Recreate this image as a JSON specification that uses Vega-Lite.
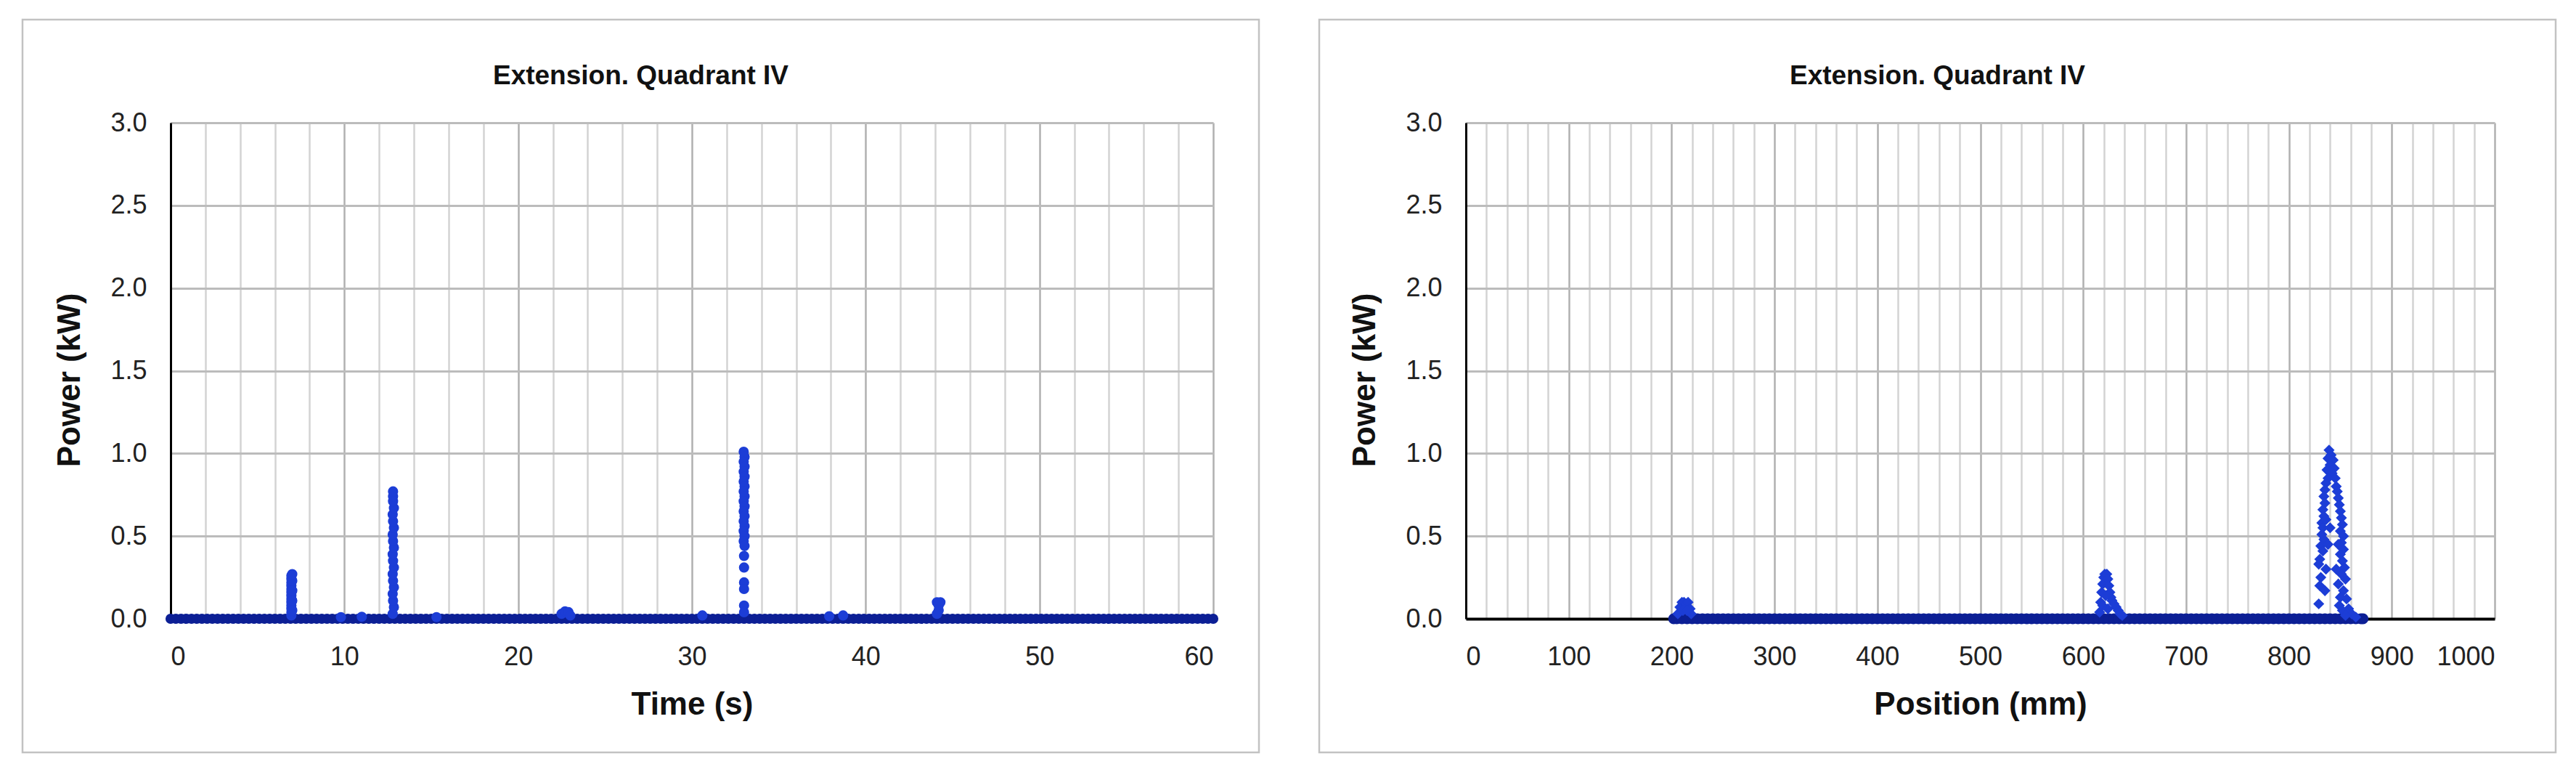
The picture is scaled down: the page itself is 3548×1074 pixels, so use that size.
{
"$schema": "https://vega.github.io/schema/vega-lite/v6.json",
"background": "white",
"padding": {"left": 29, "top": 25, "right": 10, "bottom": 10},
"bounds": "flush",
"spacing": 83,
"config": {"view": {"stroke": "#c2c2c2", "strokeWidth": 2.5, "fill": "white"}, "font": "Liberation Sans"},
"datasets": {
"time": [
{"t":0,"p":0},{"t":0.3,"p":0},{"t":0.6,"p":0},{"t":0.9,"p":0},{"t":1.2,"p":0},{"t":1.5,"p":0},{"t":1.8,"p":0},{"t":2.1,"p":0},{"t":2.4,"p":0},{"t":2.7,"p":0},
{"t":3,"p":0},{"t":3.3,"p":0},{"t":3.6,"p":0},{"t":3.9,"p":0},{"t":4.2,"p":0},{"t":4.5,"p":0},{"t":4.8,"p":0},{"t":5.1,"p":0},{"t":5.4,"p":0},{"t":5.7,"p":0},
{"t":6,"p":0},{"t":6.3,"p":0},{"t":6.6,"p":0},{"t":6.9,"p":0},{"t":7.2,"p":0},{"t":7.5,"p":0},{"t":7.8,"p":0},{"t":8.1,"p":0},{"t":8.4,"p":0},{"t":8.7,"p":0},
{"t":9,"p":0},{"t":9.3,"p":0},{"t":9.6,"p":0},{"t":9.9,"p":0},{"t":10.2,"p":0},{"t":10.5,"p":0},{"t":10.8,"p":0},{"t":11.1,"p":0},{"t":11.4,"p":0},{"t":11.7,"p":0},
{"t":12,"p":0},{"t":12.3,"p":0},{"t":12.6,"p":0},{"t":12.9,"p":0},{"t":13.2,"p":0},{"t":13.5,"p":0},{"t":13.8,"p":0},{"t":14.1,"p":0},{"t":14.4,"p":0},{"t":14.7,"p":0},
{"t":15,"p":0},{"t":15.3,"p":0},{"t":15.6,"p":0},{"t":15.9,"p":0},{"t":16.2,"p":0},{"t":16.5,"p":0},{"t":16.8,"p":0},{"t":17.1,"p":0},{"t":17.4,"p":0},{"t":17.7,"p":0},
{"t":18,"p":0},{"t":18.3,"p":0},{"t":18.6,"p":0},{"t":18.9,"p":0},{"t":19.2,"p":0},{"t":19.5,"p":0},{"t":19.8,"p":0},{"t":20.1,"p":0},{"t":20.4,"p":0},{"t":20.7,"p":0},
{"t":21,"p":0},{"t":21.3,"p":0},{"t":21.6,"p":0},{"t":21.9,"p":0},{"t":22.2,"p":0},{"t":22.5,"p":0},{"t":22.8,"p":0},{"t":23.1,"p":0},{"t":23.4,"p":0},{"t":23.7,"p":0},
{"t":24,"p":0},{"t":24.3,"p":0},{"t":24.6,"p":0},{"t":24.9,"p":0},{"t":25.2,"p":0},{"t":25.5,"p":0},{"t":25.8,"p":0},{"t":26.1,"p":0},{"t":26.4,"p":0},{"t":26.7,"p":0},
{"t":27,"p":0},{"t":27.3,"p":0},{"t":27.6,"p":0},{"t":27.9,"p":0},{"t":28.2,"p":0},{"t":28.5,"p":0},{"t":28.8,"p":0},{"t":29.1,"p":0},{"t":29.4,"p":0},{"t":29.7,"p":0},
{"t":30,"p":0},{"t":30.3,"p":0},{"t":30.6,"p":0},{"t":30.9,"p":0},{"t":31.2,"p":0},{"t":31.5,"p":0},{"t":31.8,"p":0},{"t":32.1,"p":0},{"t":32.4,"p":0},{"t":32.7,"p":0},
{"t":33,"p":0},{"t":33.3,"p":0},{"t":33.6,"p":0},{"t":33.9,"p":0},{"t":34.2,"p":0},{"t":34.5,"p":0},{"t":34.8,"p":0},{"t":35.1,"p":0},{"t":35.4,"p":0},{"t":35.7,"p":0},
{"t":36,"p":0},{"t":36.3,"p":0},{"t":36.6,"p":0},{"t":36.9,"p":0},{"t":37.2,"p":0},{"t":37.5,"p":0},{"t":37.8,"p":0},{"t":38.1,"p":0},{"t":38.4,"p":0},{"t":38.7,"p":0},
{"t":39,"p":0},{"t":39.3,"p":0},{"t":39.6,"p":0},{"t":39.9,"p":0},{"t":40.2,"p":0},{"t":40.5,"p":0},{"t":40.8,"p":0},{"t":41.1,"p":0},{"t":41.4,"p":0},{"t":41.7,"p":0},
{"t":42,"p":0},{"t":42.3,"p":0},{"t":42.6,"p":0},{"t":42.9,"p":0},{"t":43.2,"p":0},{"t":43.5,"p":0},{"t":43.8,"p":0},{"t":44.1,"p":0},{"t":44.4,"p":0},{"t":44.7,"p":0},
{"t":45,"p":0},{"t":45.3,"p":0},{"t":45.6,"p":0},{"t":45.9,"p":0},{"t":46.2,"p":0},{"t":46.5,"p":0},{"t":46.8,"p":0},{"t":47.1,"p":0},{"t":47.4,"p":0},{"t":47.7,"p":0},
{"t":48,"p":0},{"t":48.3,"p":0},{"t":48.6,"p":0},{"t":48.9,"p":0},{"t":49.2,"p":0},{"t":49.5,"p":0},{"t":49.8,"p":0},{"t":50.1,"p":0},{"t":50.4,"p":0},{"t":50.7,"p":0},
{"t":51,"p":0},{"t":51.3,"p":0},{"t":51.6,"p":0},{"t":51.9,"p":0},{"t":52.2,"p":0},{"t":52.5,"p":0},{"t":52.8,"p":0},{"t":53.1,"p":0},{"t":53.4,"p":0},{"t":53.7,"p":0},
{"t":54,"p":0},{"t":54.3,"p":0},{"t":54.6,"p":0},{"t":54.9,"p":0},{"t":55.2,"p":0},{"t":55.5,"p":0},{"t":55.8,"p":0},{"t":56.1,"p":0},{"t":56.4,"p":0},{"t":56.7,"p":0},
{"t":57,"p":0},{"t":57.3,"p":0},{"t":57.6,"p":0},{"t":57.9,"p":0},{"t":58.2,"p":0},{"t":58.5,"p":0},{"t":58.8,"p":0},{"t":59.1,"p":0},{"t":59.4,"p":0},{"t":59.7,"p":0},
{"t":60,"p":0},
{"t":6.95,"p":0.02},{"t":6.95,"p":0.04},{"t":6.95,"p":0.06},{"t":6.95,"p":0.08},{"t":6.95,"p":0.1},{"t":6.95,"p":0.12},{"t":6.95,"p":0.14},{"t":6.95,"p":0.16},{"t":6.95,"p":0.18},{"t":6.95,"p":0.2},{"t":6.95,"p":0.22},{"t":6.95,"p":0.24},{"t":6.95,"p":0.26},
{"t":7.0,"p":0.05},{"t":7.0,"p":0.11},{"t":7.0,"p":0.17},{"t":7.0,"p":0.23},{"t":7.0,"p":0.27},
{"t":12.78,"p":0.03},{"t":12.85,"p":0.07},{"t":12.8,"p":0.11},{"t":12.78,"p":0.15},{"t":12.85,"p":0.19},{"t":12.8,"p":0.23},{"t":12.78,"p":0.27},{"t":12.85,"p":0.31},{"t":12.8,"p":0.35},{"t":12.78,"p":0.39},{"t":12.85,"p":0.43},{"t":12.8,"p":0.47},{"t":12.78,"p":0.51},{"t":12.85,"p":0.55},{"t":12.8,"p":0.59},{"t":12.78,"p":0.63},{"t":12.85,"p":0.67},{"t":12.8,"p":0.71},{"t":12.8,"p":0.74},{"t":12.8,"p":0.77},
{"t":32.98,"p":1.01},{"t":33.03,"p":0.98},{"t":32.98,"p":0.95},{"t":33.03,"p":0.92},{"t":32.98,"p":0.89},{"t":33.03,"p":0.86},{"t":32.98,"p":0.83},{"t":33.03,"p":0.8},{"t":32.98,"p":0.77},{"t":33.03,"p":0.74},{"t":32.98,"p":0.71},{"t":33.03,"p":0.68},{"t":32.98,"p":0.65},{"t":33.03,"p":0.62},{"t":32.98,"p":0.59},{"t":33.03,"p":0.56},{"t":32.98,"p":0.53},{"t":33.03,"p":0.5},{"t":32.98,"p":0.47},{"t":33.03,"p":0.44},{"t":33.0,"p":0.38},{"t":33.0,"p":0.31},{"t":33.0,"p":0.22},{"t":33.0,"p":0.18},{"t":33.0,"p":0.08},{"t":33.0,"p":0.04},
{"t":9.8,"p":0.01},{"t":11.0,"p":0.012},{"t":15.3,"p":0.01},{"t":22.5,"p":0.03},{"t":22.7,"p":0.045},{"t":22.9,"p":0.04},{"t":23.0,"p":0.02},{"t":30.6,"p":0.02},{"t":37.9,"p":0.015},{"t":38.7,"p":0.02},
{"t":44.1,"p":0.1},{"t":44.2,"p":0.08},{"t":44.3,"p":0.1},{"t":44.2,"p":0.05},{"t":44.1,"p":0.03}
],
"pos": [
{"m":202,"p":0},{"m":205,"p":0},{"m":210,"p":0},{"m":215,"p":0},{"m":220,"p":0},{"m":225,"p":0},{"m":230,"p":0},{"m":235,"p":0},{"m":240,"p":0},{"m":245,"p":0},
{"m":250,"p":0},{"m":255,"p":0},{"m":260,"p":0},{"m":265,"p":0},{"m":270,"p":0},{"m":275,"p":0},{"m":280,"p":0},{"m":285,"p":0},{"m":290,"p":0},{"m":295,"p":0},
{"m":300,"p":0},{"m":305,"p":0},{"m":310,"p":0},{"m":315,"p":0},{"m":320,"p":0},{"m":325,"p":0},{"m":330,"p":0},{"m":335,"p":0},{"m":340,"p":0},{"m":345,"p":0},
{"m":350,"p":0},{"m":355,"p":0},{"m":360,"p":0},{"m":365,"p":0},{"m":370,"p":0},{"m":375,"p":0},{"m":380,"p":0},{"m":385,"p":0},{"m":390,"p":0},{"m":395,"p":0},
{"m":400,"p":0},{"m":405,"p":0},{"m":410,"p":0},{"m":415,"p":0},{"m":420,"p":0},{"m":425,"p":0},{"m":430,"p":0},{"m":435,"p":0},{"m":440,"p":0},{"m":445,"p":0},
{"m":450,"p":0},{"m":455,"p":0},{"m":460,"p":0},{"m":465,"p":0},{"m":470,"p":0},{"m":475,"p":0},{"m":480,"p":0},{"m":485,"p":0},{"m":490,"p":0},{"m":495,"p":0},
{"m":500,"p":0},{"m":505,"p":0},{"m":510,"p":0},{"m":515,"p":0},{"m":520,"p":0},{"m":525,"p":0},{"m":530,"p":0},{"m":535,"p":0},{"m":540,"p":0},{"m":545,"p":0},
{"m":550,"p":0},{"m":555,"p":0},{"m":560,"p":0},{"m":565,"p":0},{"m":570,"p":0},{"m":575,"p":0},{"m":580,"p":0},{"m":585,"p":0},{"m":590,"p":0},{"m":595,"p":0},
{"m":600,"p":0},{"m":605,"p":0},{"m":610,"p":0},{"m":615,"p":0},{"m":620,"p":0},{"m":625,"p":0},{"m":630,"p":0},{"m":635,"p":0},{"m":640,"p":0},{"m":645,"p":0},
{"m":650,"p":0},{"m":655,"p":0},{"m":660,"p":0},{"m":665,"p":0},{"m":670,"p":0},{"m":675,"p":0},{"m":680,"p":0},{"m":685,"p":0},{"m":690,"p":0},{"m":695,"p":0},
{"m":700,"p":0},{"m":705,"p":0},{"m":710,"p":0},{"m":715,"p":0},{"m":720,"p":0},{"m":725,"p":0},{"m":730,"p":0},{"m":735,"p":0},{"m":740,"p":0},{"m":745,"p":0},
{"m":750,"p":0},{"m":755,"p":0},{"m":760,"p":0},{"m":765,"p":0},{"m":770,"p":0},{"m":775,"p":0},{"m":780,"p":0},{"m":785,"p":0},{"m":790,"p":0},{"m":795,"p":0},
{"m":800,"p":0},{"m":805,"p":0},{"m":810,"p":0},{"m":815,"p":0},{"m":820,"p":0},{"m":825,"p":0},{"m":830,"p":0},{"m":835,"p":0},{"m":840,"p":0},{"m":845,"p":0},
{"m":850,"p":0},{"m":855,"p":0},{"m":860,"p":0},{"m":865,"p":0},{"m":870,"p":0},{"m":872,"p":0},
{"m":206,"p":0.03},{"m":208,"p":0.07},{"m":210,"p":0.1},{"m":212,"p":0.1},{"m":214,"p":0.09},{"m":216,"p":0.1},{"m":218,"p":0.06},{"m":219,"p":0.03},{"m":211,"p":0.05},{"m":215,"p":0.05},
{"m":616,"p":0.04},{"m":617,"p":0.1},{"m":618,"p":0.16},{"m":619,"p":0.21},{"m":620,"p":0.25},{"m":621,"p":0.27},{"m":623,"p":0.27},{"m":624,"p":0.24},{"m":625,"p":0.2},{"m":626,"p":0.16},{"m":627,"p":0.13},{"m":628,"p":0.11},{"m":630,"p":0.09},{"m":632,"p":0.07},{"m":634,"p":0.05},{"m":636,"p":0.03},{"m":638,"p":0.02},{"m":619,"p":0.08},{"m":622,"p":0.14},{"m":624,"p":0.06},
{"m":839,"p":1.02},{"m":841,"p":0.99},{"m":838,"p":0.97},{"m":843,"p":0.96},{"m":840,"p":0.93},{"m":844,"p":0.91},{"m":837,"p":0.9},{"m":842,"p":0.88},{"m":838,"p":0.85},{"m":845,"p":0.85},{"m":836,"p":0.82},{"m":846,"p":0.8},{"m":835,"p":0.78},{"m":847,"p":0.77},{"m":834,"p":0.74},{"m":848,"p":0.73},{"m":835,"p":0.7},{"m":849,"p":0.69},{"m":833,"p":0.66},{"m":850,"p":0.65},{"m":834,"p":0.62},{"m":851,"p":0.61},{"m":832,"p":0.58},{"m":852,"p":0.57},{"m":833,"p":0.55},{"m":850,"p":0.53},{"m":832,"p":0.51},{"m":853,"p":0.5},{"m":834,"p":0.48},{"m":851,"p":0.46},{"m":831,"p":0.44},{"m":853,"p":0.42},{"m":833,"p":0.41},{"m":850,"p":0.39},{"m":830,"p":0.36},{"m":852,"p":0.35},{"m":829,"p":0.33},{"m":854,"p":0.31},{"m":836,"p":0.3},{"m":851,"p":0.27},{"m":831,"p":0.25},{"m":855,"p":0.24},{"m":848,"p":0.21},{"m":830,"p":0.2},{"m":835,"p":0.17},{"m":853,"p":0.17},{"m":850,"p":0.13},{"m":856,"p":0.12},{"m":829,"p":0.09},{"m":849,"p":0.08},{"m":852,"p":0.05},{"m":858,"p":0.06},{"m":861,"p":0.03},{"m":855,"p":0.02},{"m":865,"p":0.01},{"m":838,"p":0.45},{"m":846,"p":0.3},{"m":840,"p":0.55},{"m":836,"p":0.6},{"m":848,"p":0.45}
]
},
"hconcat": [
{
"width": 1703, "height": 1009,
"title": {"text": "Extension. Quadrant IV", "anchor": "middle", "frame": "group", "offset": -126, "baseline": "alphabetic", "fontSize": 37, "fontWeight": "bold", "font": "Liberation Sans", "color": "#111111"},
"data": {"name": "time"},
"resolve": {"axis": {"x": "independent"}},
"encoding": {
"y": {"field": "p", "type": "quantitative",
 "scale": {"domain": [0, 3], "range": [825, 142], "nice": false, "zero": false},
 "axis": {"title": "Power (kW)", "values": [0, 0.5, 1, 1.5, 2, 2.5, 3], "format": ".1f", "offset": -204, "ticks": false, "tickSize": 0, "labelPadding": 33, "labelFontSize": 36, "labelFont": "Liberation Sans", "labelColor": "#222222", "domain": true, "domainColor": "#000000", "domainWidth": 3, "grid": true, "gridColor": "#bcbcbc", "gridWidth": 3, "titleFontSize": 44, "titleFontWeight": "bold", "titleFont": "Liberation Sans", "titleColor": "#111111", "titleX": -139, "titleY": 496, "titleBaseline": "middle"}}
},
"layer": [
{
"mark": {"type": "point", "opacity": 0},
"encoding": {
"x": {"field": "t", "type": "quantitative", "scale": {"domain": [0, 60], "range": [204, 1640], "nice": false, "zero": false},
 "axis": {"orient": "top", "values": [0,2,4,6,8,10,12,14,16,18,20,22,24,26,28,30,32,34,36,38,40,42,44,46,48,50,52,54,56,58,60], "grid": true, "labels": false, "ticks": false, "domain": false, "title": null, "gridColor": {"condition": {"test": "datum.value % 10 === 0", "value": "#b0b0b0"}, "value": "#d3d3d3"}, "gridWidth": 2.5}}
}
},
{
"mark": {"type": "point", "filled": true, "opacity": 1, "shape": "circle", "size": 200},
"encoding": {
"x": {"field": "t", "type": "quantitative", "scale": {"domain": [0, 60], "range": [204, 1640], "nice": false, "zero": false},
 "axis": {"orient": "bottom", "title": "Time (s)", "values": [0, 10, 20, 30, 40, 50, 60], "format": "d", "offset": -184, "grid": false, "ticks": false, "tickSize": 0, "labelPadding": 35, "labelFontSize": 36, "labelFont": "Liberation Sans", "labelColor": "#222222", "domain": true, "domainColor": "#000000", "domainWidth": 4, "titleFontSize": 44, "titleFontWeight": "bold", "titleFont": "Liberation Sans", "titleColor": "#111111", "titleY": 131, "titleBaseline": "alphabetic"}},
"color": {"condition": {"test": "datum.p <= 0.001", "value": "#0c1f95"}, "value": "#1c3dd6"}
}
}
]
},
{
"width": 1703, "height": 1009,
"title": {"text": "Extension. Quadrant IV", "anchor": "middle", "frame": "group", "offset": -126, "baseline": "alphabetic", "fontSize": 37, "fontWeight": "bold", "font": "Liberation Sans", "color": "#111111"},
"data": {"name": "pos"},
"resolve": {"axis": {"x": "independent"}},
"encoding": {
"y": {"field": "p", "type": "quantitative",
 "scale": {"domain": [0, 3], "range": [825, 142], "nice": false, "zero": false},
 "axis": {"title": "Power (kW)", "values": [0, 0.5, 1, 1.5, 2, 2.5, 3], "format": ".1f", "offset": -202, "ticks": false, "tickSize": 0, "labelPadding": 33, "labelFontSize": 36, "labelFont": "Liberation Sans", "labelColor": "#222222", "domain": true, "domainColor": "#000000", "domainWidth": 3, "grid": true, "gridColor": "#bcbcbc", "gridWidth": 3, "titleFontSize": 44, "titleFontWeight": "bold", "titleFont": "Liberation Sans", "titleColor": "#111111", "titleX": -139, "titleY": 496, "titleBaseline": "middle"}}
},
"layer": [
{
"mark": {"type": "point", "opacity": 0},
"encoding": {
"x": {"field": "m", "type": "quantitative", "scale": {"domain": [0, 1000], "range": [202, 1619], "nice": false, "zero": false},
 "axis": {"orient": "top", "values": [0,20,40,60,80,100,120,140,160,180,200,220,240,260,280,300,320,340,360,380,400,420,440,460,480,500,520,540,560,580,600,620,640,660,680,700,720,740,760,780,800,820,840,860,880,900,920,940,960,980,1000], "grid": true, "labels": false, "ticks": false, "domain": false, "title": null, "gridColor": {"condition": {"test": "datum.value % 100 === 0", "value": "#b0b0b0"}, "value": "#d3d3d3"}, "gridWidth": 2.5}}
}
},
{
"mark": {"type": "point", "filled": true, "opacity": 1, "size": 230},
"encoding": {
"x": {"field": "m", "type": "quantitative", "scale": {"domain": [0, 1000], "range": [202, 1619], "nice": false, "zero": false},
 "axis": {"orient": "bottom", "title": "Position (mm)", "values": [0,100,200,300,400,500,600,700,800,900,1000], "format": "d", "offset": -184, "grid": false, "ticks": false, "tickSize": 0, "labelPadding": 35, "labelFontSize": 36, "labelFont": "Liberation Sans", "labelColor": "#222222", "domain": true, "domainColor": "#000000", "domainWidth": 4, "titleFontSize": 44, "titleFontWeight": "bold", "titleFont": "Liberation Sans", "titleColor": "#111111", "titleY": 131, "titleBaseline": "alphabetic"}},
"color": {"condition": {"test": "datum.p <= 0.001", "value": "#0c1f95"}, "value": "#1c3dd6"},
"shape": {"condition": {"test": "datum.p <= 0.001", "value": "circle"}, "value": "diamond"}
}
}
]
}
]
}
